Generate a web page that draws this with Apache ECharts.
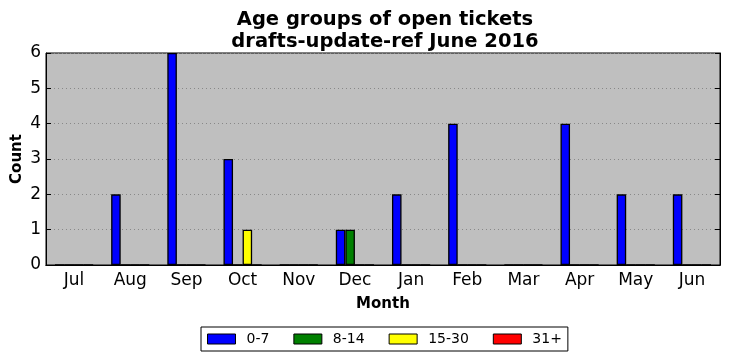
<!DOCTYPE html>
<html><head><meta charset="utf-8">
<script src="https://cdn.jsdelivr.net/npm/echarts@6/dist/echarts.min.js"></script>
<style>html,body{margin:0;padding:0;background:#fff}#c{width:731px;height:361px}</style>
</head><body><div id="c"></div>
<script>
const months = ['Jul','Aug','Sep','Oct','Nov','Dec','Jan','Feb','Mar','Apr','May','Jun'];
const seriesNames = ['0-7','8-14','15-30','31+'];
const colors = ['#0000ff','#008000','#ffff00','#ff0000'];
const age0to7 = [0,2,6,3,0,1,2,4,0,4,2,2];
const age8to14 = [0,0,0,0,0,1,0,0,0,0,0,0];
const age15to30 = [0,0,0,1,0,0,0,0,0,0,0,0];
const age31plus = [0,0,0,0,0,0,0,0,0,0,0,0];
const yTicks = [0,1,2,3,4,5,6];
const values = [age0to7, age8to14, age15to30, age31plus];
const F = 'DejaVu Sans';
const chart = echarts.init(document.getElementById('c'), null, {renderer:'canvas'});
chart.setOption({
  animation:false,
  title:{text:'Age groups of open tickets\ndrafts-update-ref June 2016',left:380,top:4,textAlign:'center',
    textStyle:{fontFamily:F,fontWeight:'bold',fontSize:19.5,color:'#000',lineHeight:22}},
  grid:{left:46,right:11,top:53,bottom:96,show:true,backgroundColor:'#bfbfbf',borderColor:'#000',borderWidth:1,
    containLabel:false,outerBoundsMode:'none'},
  legend:{bottom:10,left:201,itemWidth:28,itemHeight:10,itemGap:24,
    borderColor:'#000',borderWidth:1,padding:[5,6,5,6],borderRadius:0,
    textStyle:{fontFamily:F,fontSize:14,color:'#000',padding:[0,0,0,6]},
    data:seriesNames.map(n=>({name:n,icon:'rect',itemStyle:{borderColor:'#000',borderWidth:1}}))},
  xAxis:[{type:'category',data:months,name:'Month',nameLocation:'middle',nameGap:32,
    nameTextStyle:{fontFamily:F,fontWeight:'bold',fontSize:15,color:'#000'},
    axisLine:{lineStyle:{color:'#000'}},axisTick:{inside:true,alignWithLabel:true,length:5,lineStyle:{color:'#000'}},
    axisLabel:{fontFamily:F,fontSize:17,color:'#000',margin:7},splitLine:{show:false}},
   {type:'category',data:months,position:'top',axisLine:{lineStyle:{color:'#000'}},
    axisTick:{inside:true,alignWithLabel:true,length:5,lineStyle:{color:'#000'}},axisLabel:{show:false}}],
  yAxis:[{type:'value',min:0,max:6,interval:1,name:'Count',nameLocation:'middle',nameGap:21,nameMoveOverlap:false,
    nameTextStyle:{fontFamily:F,fontWeight:'bold',fontSize:15,color:'#000'},
    axisLine:{show:true,lineStyle:{color:'#000'}},axisTick:{show:true,inside:true,length:5,lineStyle:{color:'#000'}},
    axisLabel:{fontFamily:F,fontSize:17,color:'#000',margin:5,formatter:v=>yTicks.includes(v)?String(v):''},
    splitLine:{show:true,lineStyle:{color:'#888',type:[1,3],width:1}}},
   {type:'value',min:0,max:6,interval:1,position:'right',axisLine:{show:true,lineStyle:{color:'#000'}},
    axisTick:{show:true,inside:true,length:5,lineStyle:{color:'#000'}},axisLabel:{show:false},splitLine:{show:false}}],
  series:values.map((v,i)=>({name:seriesNames[i],type:'bar',data:v,barGap:'0%',barCategoryGap:'32%',
    itemStyle:{color:colors[i],borderColor:'#000',borderWidth:1.3}}))
});
</script></body></html>
